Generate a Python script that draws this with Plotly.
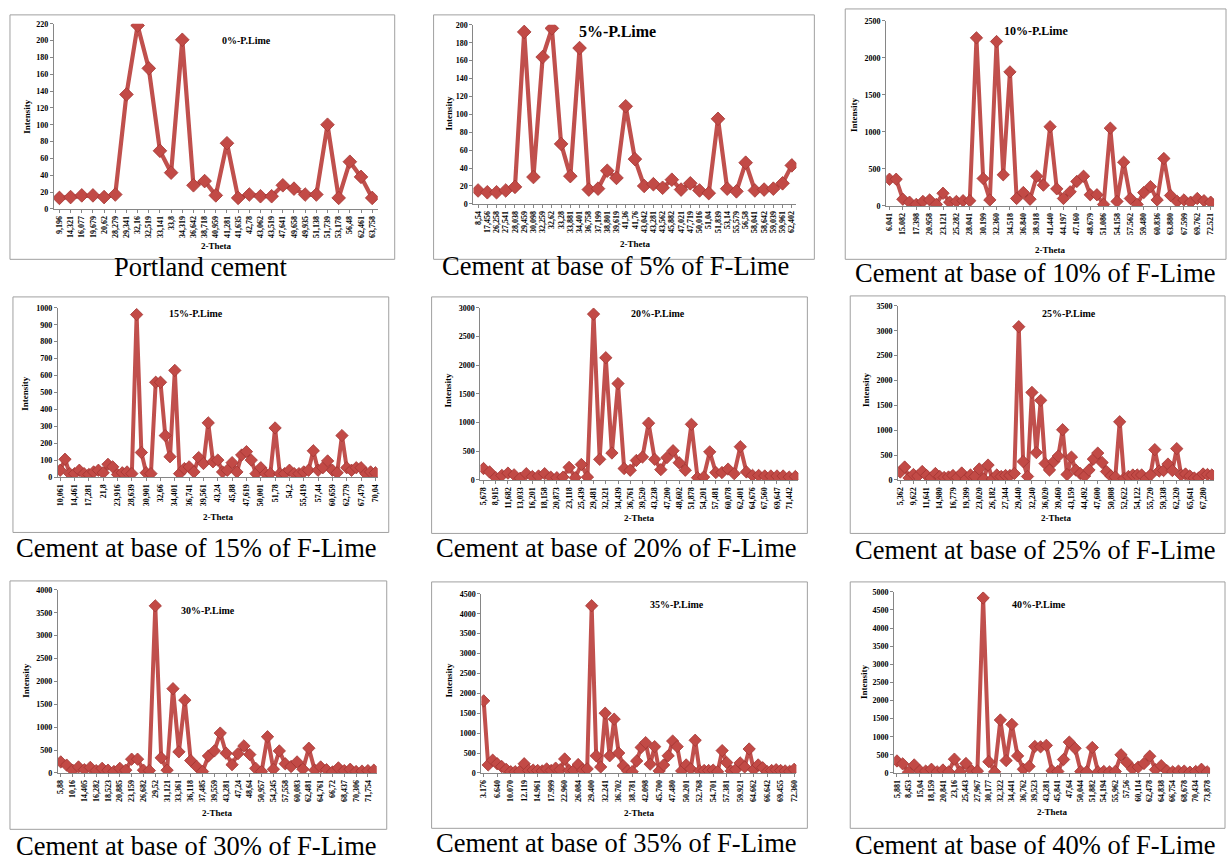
import plotly.graph_objects as go

# ---------------- DATA ----------------
theta_0 = ["9,196", "14,321", "16,077", "19,679", "20,62", "28,279", "29,341", "32,16", "32,519", "33,141",
           "33,8", "34,319", "36,642", "38,718", "40,959", "41,281", "41,635", "42,78", "43,062", "43,519",
           "47,641", "49,658", "49,935", "51,138", "51,739", "53,178", "56,48", "62,461", "63,758"]
intensity_0 = [13, 14, 16, 16, 14, 17, 136, 218, 167, 69, 43, 201, 28, 33, 16, 78, 13, 17, 15, 15,
               28, 24, 17, 17, 100, 13, 56, 38, 13]

theta_5 = ["8,54", "17,456", "26,258", "27,541", "28,038", "29,459", "30,098", "32,259", "32,62", "33,28",
           "33,881", "34,401", "36,758", "37,199", "38,801", "39,619", "41,36", "41,76", "43,042", "43,281",
           "43,562", "45,882", "47,021", "47,719", "50,016", "51,04", "51,839", "53,14", "55,579", "56,58",
           "58,041", "58,642", "59,039", "59,961", "62,402"]
intensity_5 = [15, 13, 13, 15, 19, 192, 30, 164, 196, 67, 31, 174, 16, 17, 37, 29, 109, 50, 20, 22,
               18, 27, 16, 23, 15, 12, 95, 17, 14, 46, 15, 16, 17, 23, 43]

theta_10 = ["6.041", "15.082", "17.398", "20.958", "23.121", "25.282", "28.041", "30.199", "32.360", "34.518",
            "36.840", "38.918", "41.440", "44.197", "47.160", "48.679", "51.086", "54.158", "57.562", "59.480",
            "60.836", "63.880", "67.599", "69.762", "72.521"]
intensity_10 = [360, 360, 90, 50, 20, 60, 80, 20, 170, 50, 60, 70, 70, 2270, 370, 80, 2220, 420, 1810, 100,
                180, 90, 400, 280, 1070, 230, 100, 190, 330, 400, 150, 150, 20, 1050, 60, 590, 100, 20, 180, 260,
                80, 640, 140, 60, 80, 50, 100, 70, 50]

theta_15 = ["10,061", "14,461", "17,281", "21,8", "23,916", "28,639", "30,901", "32,66", "34,401", "36,741",
            "39,561", "43,24", "45,88", "47,619", "50,001", "51,78", "54,2", "55,419", "57,44", "60,659",
            "62,779", "67,479", "70,04"]
intensity_15 = [40, 105, 20, 20, 40, 20, 15, 30, 40, 25, 75, 60, 15, 25, 30, 20, 960, 145, 25, 20,
                560, 560, 245, 120, 630, 20, 50, 60, 30, 115, 80, 320, 90, 100, 30, 40, 85, 30, 130, 150,
                100, 20, 55, 20, 20, 290, 20, 20, 40, 20, 20, 30, 40, 155, 40, 55, 95, 40, 25, 245,
                55, 40, 55, 55, 20, 30, 25]

theta_20 = ["5,678", "8,915", "11,682", "13,033", "16,201", "18,158", "20,873", "23,118", "25,439", "29,481",
            "32,321", "34,439", "36,761", "39,520", "43,238", "47,200", "48,602", "51,878", "54,201", "57,481",
            "60,078", "62,401", "64,676", "67,560", "69,647", "71,442"]
intensity_20 = [200, 140, 40, 80, 120, 90, 30, 110, 60, 70, 110, 50, 40, 50, 220, 40, 270, 50, 2890, 360,
                2130, 470, 1680, 200, 170, 340, 400, 990, 360, 180, 390, 510, 300, 170, 970, 40, 50, 490, 130, 130,
                190, 110, 580, 140, 80, 80, 70, 70, 70, 70, 50, 60]

theta_25 = ["5,362", "9,622", "11,641", "14,980", "16,779", "19,399", "23,020", "26,182", "27,344", "29,440",
            "32,240", "36,020", "39,460", "43,159", "44,492", "47,600", "50,808", "52,622", "54,122", "55,720",
            "59,338", "62,320", "65,641", "67,280"]
intensity_25 = [160, 260, 40, 110, 80, 170, 90, 40, 130, 70, 50, 60, 90, 50, 140, 20, 100, 70, 220, 20,
                300, 20, 100, 70, 90, 90, 130, 3080, 370, 70, 1760, 550, 1600, 330, 200, 370, 480, 1010, 110, 460,
                200, 130, 80, 200, 420, 540, 350, 170, 80, 60, 1170, 30, 70, 100, 100, 100, 20, 100, 610, 180,
                190, 320, 190, 630, 100, 120, 80, 40, 40, 120, 110, 100]

theta_30 = ["5,88", "10,16", "14,405", "16,282", "18,523", "20,885", "23,159", "26,682", "29,52", "31,121",
            "33,361", "36,118", "37,485", "39,559", "43,281", "47,24", "48,64", "50,957", "54,245", "57,558",
            "60,083", "62,481", "64,761", "66,72", "68,437", "70,306", "71,754"]
intensity_30 = [240, 170, 60, 130, 70, 120, 50, 100, 60, 30, 100, 60, 300, 300, 60, 50, 3650, 330, 60, 1840,
                460, 1590, 270, 140, 30, 370, 480, 870, 430, 180, 420, 590, 400, 100, 30, 790, 80, 480, 200, 140,
                240, 80, 540, 60, 130, 70, 20, 110, 50, 80, 30, 40, 50, 60]

theta_35 = ["3.176", "6.640", "10.070", "12.119", "14.961", "17.999", "22.960", "26.084", "29.400", "32.241",
            "36.702", "38.781", "42.098", "45.700", "47.480", "50.201", "52.768", "54.701", "57.381", "59.921",
            "64.662", "66.642", "69.455", "72.360"]
intensity_35 = [1810, 200, 320, 230, 160, 90, 30, 30, 40, 230, 60, 70, 60, 50, 100, 60, 120, 80, 350, 60,
                60, 210, 70, 100, 4200, 430, 150, 1500, 430, 1350, 500, 180, 50, 30, 300, 640, 760, 220, 660, 50,
                200, 430, 800, 660, 50, 200, 100, 820, 50, 60, 60, 70, 30, 560, 260, 50, 80, 250, 150, 600,
                80, 200, 130, 30, 60, 80, 60, 50, 40, 90]

theta_40 = ["5,881", "8,453", "15,04", "18,159", "20,841", "23,16", "25,443", "27,967", "30,177", "32,322",
            "34,441", "36,762", "39,523", "43,281", "45,841", "47,64", "50,044", "51,882", "54,194", "55,962",
            "57,56", "60,114", "62,478", "64,838", "66,754", "68,678", "70,434", "73,878"]
intensity_40 = [330, 250, 20, 220, 60, 50, 100, 30, 80, 30, 380, 30, 260, 60, 50, 4830, 310, 30, 1460, 340,
                1340, 470, 100, 180, 730, 720, 760, 60, 40, 370, 850, 680, 40, 30, 700, 30, 40, 30, 40, 500,
                290, 110, 160, 260, 460, 90, 200, 60, 30, 50, 50, 20, 40, 100, 30]

titles = ["0%-P.Lime", "5%-P.Lime", "10%-P.Lime", "15%-P.Lime", "20%-P.Lime",
          "25%-P.Lime", "30%-P.Lime", "35%-P.Lime", "40%-P.Lime"]
captions = ["Portland cement", "Cement at base of 5% of F-Lime", "Cement at base of 10% of F-Lime",
            "Cement at base of 15% of F-Lime", "Cement at base of 20% of F-Lime", "Cement at base of 25% of F-Lime",
            "Cement at base of 30% of F-Lime", "Cement at base of 35% of F-Lime", "Cement at base of 40% of F-Lime"]
y_max = [220, 200, 2500, 1000, 3000, 3500, 4000, 4500, 5000]
y_step = [20, 20, 500, 100, 500, 500, 500, 500, 500]
label_every = [1, 1, 2, 3, 2, 3, 2, 3, 2]

thetas = [theta_0, theta_5, theta_10, theta_15, theta_20, theta_25, theta_30, theta_35, theta_40]
intensities = [intensity_0, intensity_5, intensity_10, intensity_15, intensity_20,
               intensity_25, intensity_30, intensity_35, intensity_40]

# ---------------- LAYOUT (pixels) ----------------
W, H = 1230, 864
boxes = [(8, 11, 394, 258), (433, 11, 815, 258), (846, 5, 1228, 258),
         (11, 296, 388, 534), (431, 296, 808, 535), (851, 295, 1227, 535),
         (8, 583, 386, 834), (431, 584, 808, 833), (851, 584, 1227, 833)]
plots = [(52, 20, 377, 207), (473, 21, 797, 202), (887, 17, 1216, 204),
         (56, 307, 377, 478), (480, 307, 799, 481), (899, 305, 1216, 481),
         (56, 592, 376, 777), (481, 596, 797, 777), (895, 594, 1212, 777)]
title_pos = [(245, 37, 10), (618, 28, 16), (1038, 27, 12), (195, 313, 10), (658, 313, 10),
             (1070, 313, 10), (207, 613, 10), (677, 607, 10), (1040, 607, 10)]
theta_y = [245, 243, 249, 518, 519, 519, 818, 818, 817]
int_pos = [(25, 113), (448, 110), (855, 112), (23, 393), (447, 390), (867, 390), (24, 683), (448, 683), (865, 685)]
cap_pos = [(200, 266), (616, 265), (1037, 272), (195, 550), (617, 550), (1037, 552),
           (195, 851), (617, 848), (1037, 850)]

SERIF = "Liberation Serif"
RED = "#C0504D"
fig = go.Figure()
layout = dict(width=W, height=H, margin=dict(l=0, r=0, t=0, b=0),
              paper_bgcolor="white", plot_bgcolor="white", showlegend=False)
shapes, annotations = [], []

def px(x):
    return x / W

def py(y):
    return 1 - y / H

for i in range(9):
    k = "" if i == 0 else str(i + 1)
    n = len(intensities[i])
    xs = list(range(n))
    msize = 10.5 if i < 2 else 9.5
    lw = 4.2 if i < 2 else 4
    fig.add_trace(go.Scatter(
        x=xs, y=intensities[i], mode="lines+markers",
        line=dict(color=RED, width=lw),
        marker=dict(symbol="diamond", size=msize, color="#C24A46",
                    line=dict(color="#A33633", width=0.8)),
        xaxis="x" + k, yaxis="y" + k, hoverinfo="x+y"))
    x0, yt, x1, yb = plots[i]
    tv = list(range(0, n, label_every[i]))[:len(thetas[i])]
    layout["xaxis" + k] = dict(
        domain=[px(x0), px(x1)], anchor="y" + k, range=[-0.5, n - 0.5],
        tickmode="array", tickvals=tv, ticktext=thetas[i], tickangle=-90,
        tickfont=dict(family=SERIF, size=8, color="black", weight="bold"),
        showline=True, linecolor="#868686", linewidth=1, ticks="outside", ticklen=3,
        tickcolor="#868686", showgrid=False, zeroline=False, fixedrange=True)
    layout["yaxis" + k] = dict(
        domain=[py(yb), py(yt)], anchor="x" + k, range=[0, y_max[i]], dtick=y_step[i], tick0=0,
        tickfont=dict(family=SERIF, size=8, color="black", weight="bold"),
        showline=True, linecolor="#868686", linewidth=1, ticks="outside", ticklen=3,
        tickcolor="#868686", showgrid=False, zeroline=False, fixedrange=True)
    bx0, by0, bx1, by1 = boxes[i]
    shapes.append(dict(type="rect", xref="paper", yref="paper",
                       x0=px(bx0), x1=px(bx1), y0=py(by1), y1=py(by0),
                       line=dict(color="#A0A0A0", width=1), fillcolor="rgba(0,0,0,0)", layer="below"))
    tx, ty, ts = title_pos[i]
    annotations.append(dict(text=titles[i], x=px(tx), y=py(ty), xref="paper", yref="paper",
                            showarrow=False, xanchor="center", yanchor="middle",
                            font=dict(family=SERIF, size=ts, color="black", weight="bold")))
    annotations.append(dict(text="2-Theta", x=px((x0 + x1) / 2), y=py(theta_y[i]), xref="paper", yref="paper",
                            showarrow=False, xanchor="center", yanchor="middle",
                            font=dict(family=SERIF, size=9, color="black", weight="bold")))
    ix, iy = int_pos[i]
    annotations.append(dict(text="Intensity", x=px(ix), y=py(iy), xref="paper", yref="paper",
                            showarrow=False, xanchor="center", yanchor="middle", textangle=-90,
                            font=dict(family=SERIF, size=9, color="black", weight="bold")))
    cx, cy = cap_pos[i]
    annotations.append(dict(text=captions[i], x=px(cx), y=py(cy), xref="paper", yref="paper",
                            showarrow=False, xanchor="center", yanchor="middle",
                            font=dict(family=SERIF, size=26.5, color="black")))

layout["shapes"] = shapes
layout["annotations"] = annotations
fig.update_layout(**layout)
fig.write_html("out.html", config={"displayModeBar": False})
